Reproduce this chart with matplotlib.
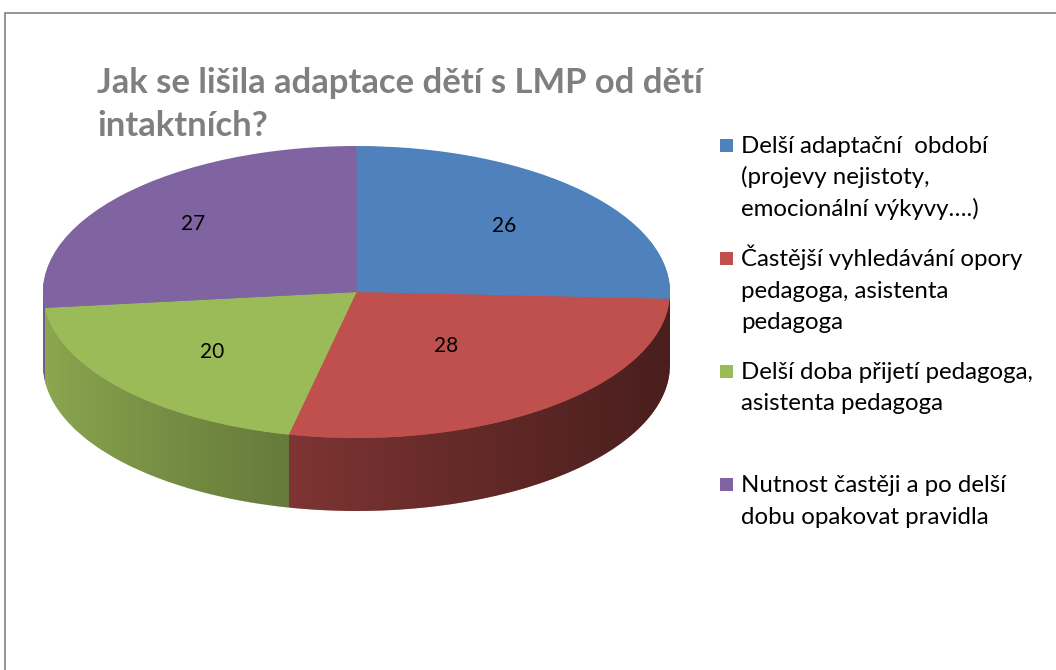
#~~~~~~~~~~~~~~~~~~~~~~~~~~~~~~~~~~~~~~~~~~~~~~~~~~#
# 3D-looking pie: adaptation of children with LMP  #
#~~~~~~~~~~~~~~~~~~~~~~~~~~~~~~~~~~~~~~~~~~~~~~~~~~#
import numpy as np
import matplotlib
matplotlib.use('Agg')
import matplotlib.pyplot as plt
from matplotlib.patches import Rectangle, Polygon

## Data ##
title_lines = ['Jak se lišila adaptace dětí s LMP od dětí', 'intaktních?']
categories = ['Delší adaptační  období\n(projevy nejistoty,\nemocionální výkyvy….)',
              'Častější vyhledávání opory\npedagoga, asistenta\npedagoga',
              'Delší doba přijetí pedagoga,\nasistenta pedagoga',
              'Nutnost častěji a po delší\ndobu opakovat pravidla']
values = [26, 28, 20, 27]
colors = ['#4F81BD', '#C0504D', '#9BBB59', '#8064A2']

## Layout (pixels, measured from the top-left corner) ##
W, H = 1056, 670
cx, cy = 356.5, 292.0      # centre of the top ellipse
rx, ry = 313.5, 146.0      # radii of the top ellipse
depth = 0.5                # thickness of the pie, in units of the y radius
pad = 0.03
label_r = [0.65, 0.47, 0.62, 0.70]   # where the numbers sit inside each slice

fig = plt.figure(figsize=(W / 100, H / 100), dpi=100)
renderer = fig.canvas.get_renderer()

left_px = cx - (1 + pad) * rx
bottom_px = cy + (1 + depth + pad) * ry
ax = fig.add_axes([left_px / W, 1 - bottom_px / H,
                   2 * (1 + pad) * rx / W, (2 + depth + 2 * pad) * ry / H])

## Side of the pie: the same pie stacked downwards ##
for z in np.linspace(-depth, 0, 90, endpoint=False):
    ax.pie(values, colors=colors, startangle=90, counterclock=False,
           center=(0, z), radius=1, wedgeprops=dict(linewidth=0))

# shading of the side, lighter on the left and darker on the right
xs = np.linspace(-1, 1, 400)
t = (xs + 1) / 2
shade = 0.9 - 0.52 * t ** 0.8
rgba = np.zeros((1, len(xs), 4))
rgba[0, :, 3] = 1 - shade
arc = np.sqrt(np.clip(1 - xs ** 2, 0, None))
crescent = np.vstack([np.column_stack([xs, -arc]),
                      np.column_stack([xs[::-1], -depth - arc[::-1]])])
clip = Polygon(crescent, closed=True, transform=ax.transData, facecolor='none', edgecolor='none')
ax.add_patch(clip)
im = ax.imshow(rgba, extent=(-1, 1, -1 - depth - 0.02, 0.0), aspect='auto',
               interpolation='bilinear', zorder=1.5)
im.set_clip_path(clip)

## Top of the pie ##
wedges, _ = ax.pie(values, colors=colors, startangle=90, counterclock=False,
                   center=(0, 0), radius=1, wedgeprops=dict(linewidth=0, zorder=2))

for w, v, r in zip(wedges, values, label_r):
    mid = np.deg2rad((w.theta1 + w.theta2) / 2)
    ax.text(r * np.cos(mid), r * np.sin(mid), str(v), ha='center', va='center',
            fontsize=15, family=['Lato', 'DejaVu Sans'], color='black', zorder=3)

ax.set_aspect('auto')
ax.set_xlim(-1 - pad, 1 + pad)
ax.set_ylim(-1 - depth - pad, 1 + pad)
ax.axis('off')

## Helper: font size so a string gets a given pixel width ##
def fit_size(txt, family, weight, target_px, start=20):
    tt = fig.text(0, 0, txt, fontsize=start, family=family, weight=weight)
    wpx = tt.get_window_extent(renderer).width
    tt.remove()
    return start * target_px / wpx

## Title ##
title_font = ['Lato', 'DejaVu Sans']
tsize = fit_size(title_lines[0], title_font, 'bold', 608)
for i, line in enumerate(title_lines):
    fig.text(97 / W, 1 - (93 + 43 * i) / H, line, fontsize=tsize, family=title_font,
             weight='bold', color='#7F7F7F', ha='left', va='baseline')

## Legend (drawn by hand, equal steps between entries) ##
leg_font = ['Lato', 'DejaVu Sans']
lsize = fit_size('Častější vyhledávání opory', leg_font, 'normal', 282)
for k, (lab, col) in enumerate(zip(categories, colors)):
    y0 = 145 + 113 * k
    fig.add_artist(Rectangle((720 / W, 1 - (y0 + 7) / H), 13 / W, 13 / H,
                             transform=fig.transFigure, facecolor=col, edgecolor='none'))
    for j, line in enumerate(lab.split('\n')):
        fig.text(741 / W, 1 - (y0 + 8 + 31.5 * j) / H, line, fontsize=lsize,
                 family=leg_font, color='black', ha='left', va='baseline')

## Chart border (cut off at the right and bottom) ##
fig.add_artist(Rectangle((4.5 / W, -0.1), 1.2, 1.1 - 13 / H, transform=fig.transFigure,
                         fill=False, edgecolor='#8C8C8C', linewidth=1.3))

fig.savefig('out.png', dpi=100)
